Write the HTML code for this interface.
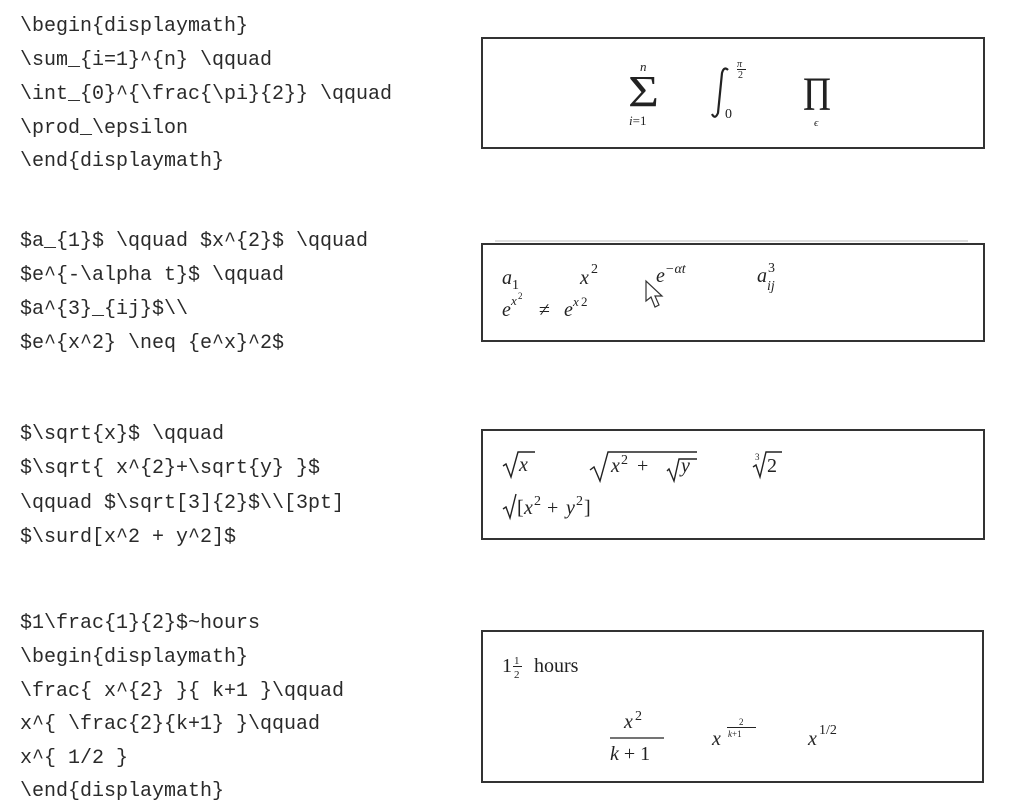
<!DOCTYPE html>
<html><head><meta charset="utf-8"><style>
html,body{margin:0;padding:0;background:#fff;}
svg{display:block;}
.c{font-family:"Liberation Mono",monospace;font-size:20px;fill:#2a2a2a;}
.m{font-family:"Liberation Serif",serif;font-style:italic;fill:#222;}
.u{font-family:"Liberation Serif",serif;fill:#222;}
</style></head><body>
<svg width="1013" height="810" viewBox="0 0 1013 810" xmlns="http://www.w3.org/2000/svg">
<g class="c" xml:space="preserve">
<text x="20" y="31">\begin{displaymath}</text>
<text x="20" y="65">\sum_{i=1}^{n} \qquad</text>
<text x="20" y="99">\int_{0}^{\frac{\pi}{2}} \qquad</text>
<text x="20" y="133">\prod_\epsilon</text>
<text x="20" y="166">\end{displaymath}</text>
<text x="20" y="246">$a_{1}$ \qquad $x^{2}$ \qquad</text>
<text x="20" y="280">$e^{-\alpha t}$ \qquad</text>
<text x="20" y="314">$a^{3}_{ij}$\\</text>
<text x="20" y="348">$e^{x^2} \neq {e^x}^2$</text>
<text x="20" y="439">$\sqrt{x}$ \qquad</text>
<text x="20" y="473">$\sqrt{ x^{2}+\sqrt{y} }$</text>
<text x="20" y="508">\qquad $\sqrt[3]{2}$\\[3pt]</text>
<text x="20" y="542">$\surd[x^2 + y^2]$</text>
<text x="20" y="628">$1\frac{1}{2}$~hours</text>
<text x="20" y="662">\begin{displaymath}</text>
<text x="20" y="696">\frac{ x^{2} }{ k+1 }\qquad</text>
<text x="20" y="729">x^{ \frac{2}{k+1} }\qquad</text>
<text x="20" y="763">x^{ 1/2 }</text>
<text x="20" y="796">\end{displaymath}</text>
</g>
<g fill="none" stroke="#333" stroke-width="2">
<rect x="482" y="38" width="502" height="110"/>
<rect x="482" y="244" width="502" height="97"/>
<rect x="482" y="430" width="502" height="109"/>
<rect x="482" y="631" width="501" height="151"/>
</g>
<line x1="495" y1="241" x2="968" y2="241" stroke="#bbb" stroke-width="1"/>

<!-- box1 -->
<text class="u" x="628" y="106" font-size="44" textLength="31" lengthAdjust="spacingAndGlyphs">Σ</text>
<text class="m" x="640" y="71" font-size="13">n</text>
<text class="m" x="629" y="125" font-size="13">i<tspan class="u" font-style="normal">=1</tspan></text>
<path d="M712,114 q3,6 6,-1 L722,73 q2,-7 6,-3" fill="none" stroke="#222" stroke-width="2.2"/>
<text class="m" x="737" y="67" font-size="10">π</text>
<line x1="737" y1="69.5" x2="746" y2="69.5" stroke="#222" stroke-width="1"/>
<text class="u" x="738" y="78" font-size="10">2</text>
<text class="u" x="725" y="118" font-size="14">0</text>
<text class="u" x="803" y="110" font-size="48" textLength="28" lengthAdjust="spacingAndGlyphs">Π</text>
<text class="m" x="814" y="126" font-size="11">ϵ</text>

<!-- box2 -->
<text class="m" x="502" y="284" font-size="20">a</text>
<text class="u" x="512" y="289" font-size="14">1</text>
<text class="m" x="580" y="284" font-size="20">x</text>
<text class="u" x="591" y="273" font-size="14">2</text>
<text class="m" x="656" y="282" font-size="20">e</text>
<text class="m" x="665" y="273" font-size="14">−αt</text>
<text class="m" x="757" y="282" font-size="20">a</text>
<text class="u" x="768" y="272" font-size="14">3</text>
<text class="m" x="767" y="290" font-size="14">ij</text>
<text class="m" x="502" y="316" font-size="20">e</text>
<text class="m" x="511" y="305" font-size="13">x</text>
<text class="u" x="518" y="299" font-size="9">2</text>
<text class="u" x="539" y="316" font-size="20">≠</text>
<text class="m" x="564" y="316" font-size="20">e</text>
<text class="m" x="573" y="306" font-size="13">x</text>
<text class="u" x="581" y="306" font-size="13">2</text>
<path d="M646,281 L646,301 L651,297 L655,307 L659,305 L655,296 L662,296 Z" fill="#fff" stroke="#333" stroke-width="1.2"/>

<!-- box3 -->
<g fill="none" stroke="#222" stroke-width="1.4">
<path d="M503,466 L506,464 L511,477 L518,452 L535,452"/>
<path d="M590,470 L594,467 L600,481 L608,452 L697,452"/>
<path d="M667,471 L669,469 L674,481 L679,459 L697,459"/>
<path d="M753,467 L756,465 L760,477 L766,452 L782,452"/>
<path d="M503,509 L506,507 L510,518 L516,494"/>
</g>
<text class="m" x="519" y="471" font-size="20">x</text>
<text class="m" x="611" y="472" font-size="20">x</text>
<text class="u" x="621" y="464" font-size="14">2</text>
<text class="u" x="637" y="472" font-size="20">+</text>
<text class="m" x="681" y="472" font-size="20">y</text>
<text class="u" x="755" y="460" font-size="9">3</text>
<text class="u" x="767" y="472" font-size="20">2</text>
<text class="u" x="517" y="514" font-size="20">[</text>
<text class="m" x="524" y="514" font-size="20">x</text>
<text class="u" x="534" y="505" font-size="14">2</text>
<text class="u" x="547" y="514" font-size="20">+</text>
<text class="m" x="566" y="514" font-size="20">y</text>
<text class="u" x="576" y="505" font-size="14">2</text>
<text class="u" x="584" y="514" font-size="20">]</text>

<!-- box4 -->
<text class="u" x="502" y="672" font-size="20">1</text>
<text class="u" x="514" y="664" font-size="11">1</text>
<line x1="513" y1="666.5" x2="522" y2="666.5" stroke="#222" stroke-width="1"/>
<text class="u" x="514" y="678" font-size="11">2</text>
<text class="u" x="534" y="672" font-size="20">hours</text>
<text class="m" x="624" y="728" font-size="20">x</text>
<text class="u" x="635" y="720" font-size="14">2</text>
<line x1="610" y1="738" x2="664" y2="738" stroke="#222" stroke-width="1.3"/>
<text class="m" x="610" y="760" font-size="20">k<tspan class="u" font-style="normal"> + 1</tspan></text>
<text class="m" x="712" y="745" font-size="20">x</text>
<text class="u" x="739" y="725" font-size="9">2</text>
<line x1="727" y1="727.5" x2="756" y2="727.5" stroke="#222" stroke-width="1"/>
<text class="m" x="728" y="737" font-size="9">k<tspan class="u" font-style="normal">+1</tspan></text>
<text class="m" x="808" y="745" font-size="20">x</text>
<text class="u" x="819" y="734" font-size="14">1/2</text>
</svg>
</body></html>
